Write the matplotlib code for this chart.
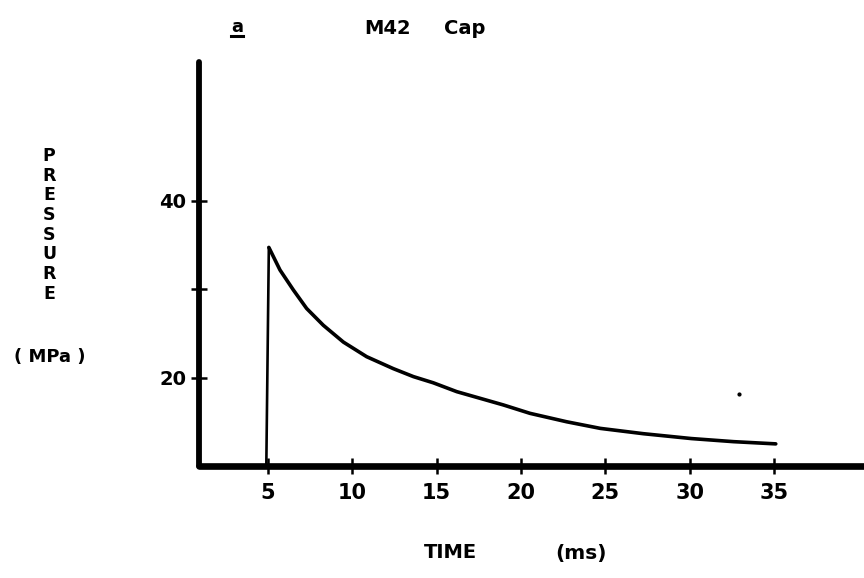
import matplotlib
matplotlib.use("Agg")
import matplotlib.pyplot as plt
from matplotlib.lines import Line2D

# ---- data ----
time_ms = [5.05, 5.71, 6.50, 7.29, 8.28, 9.47, 10.85, 12.43, 13.62, 14.80, 16.19,
           17.57, 18.95, 20.53, 22.7, 24.7, 27.25, 30.1, 32.6, 35.1]
pressure_mpa = [34.7, 32.15, 29.9, 27.8, 25.9, 24.0, 22.35, 21.0, 20.1, 19.4, 18.4,
                17.65, 16.9, 15.95, 15.0, 14.25, 13.65, 13.1, 12.75, 12.5]
onset_time = 4.9
baseline_pressure = 10.0
speck_time = [32.9]
speck_pressure = [18.1]

x_ticks = [5, 10, 15, 20, 25, 30, 35]
x_ticklabels = ["5", "10", "15", "20", "25", "30", "35"]
y_ticks = [20, 30, 40]
y_ticklabels = ["20", "", "40"]

W, H = 864, 578
fig = plt.figure(figsize=(W / 100, H / 100), dpi=100)
fig.patch.set_facecolor("white")

left_px, right_px, bottom_px, top_px = 199, 864, 466, 62
ax = fig.add_axes([left_px / W, (H - bottom_px) / H,
                   (right_px - left_px) / W, (bottom_px - top_px) / H])
ax.set_xlim(0.91, 40.33)
ax.set_ylim(10.0, 55.65)

for s in ["top", "right"]:
    ax.spines[s].set_visible(False)
ax.spines["left"].set_linewidth(4.2)
ax.spines["bottom"].set_linewidth(4.8)
for s in ["left", "bottom"]:
    ax.spines[s].set_capstyle("round")
    ax.spines[s].set_color("black")

# curve
ax.plot([onset_time, time_ms[0]], [baseline_pressure, pressure_mpa[0]],
        color="black", lw=1.9, solid_capstyle="round", clip_on=False)
ax.plot(time_ms, pressure_mpa, color="black", lw=2.6,
        solid_capstyle="round", solid_joinstyle="round", clip_on=False)
ax.plot(speck_time, speck_pressure, marker="o", ms=2, color="black", lw=0)

ax.set_xticks(x_ticks)
ax.set_xticklabels(x_ticklabels, fontsize=15, fontweight="bold")
ax.set_yticks(y_ticks)
ax.set_yticklabels(y_ticklabels, fontsize=14, fontweight="bold")
ax.tick_params(axis="both", direction="inout", length=12, width=1.8, color="black")
ax.tick_params(axis="x", pad=6)
ax.tick_params(axis="y", pad=3)

# labels
def fx(px):
    return px / W

def fy(py):
    return (H - py) / H

fig.text(fx(49), fy(147), "P\nR\nE\nS\nS\nU\nR\nE", ha="center", va="top",
         fontsize=12.5, fontweight="bold", linespacing=1.12)
fig.text(fx(50), fy(357), "( MPa )", ha="center", va="center",
         fontsize=13, fontweight="bold")
fig.text(fx(450), fy(553), "TIME", ha="center", va="center",
         fontsize=14, fontweight="bold")
fig.text(fx(581), fy(553), "(ms)", ha="center", va="center",
         fontsize=14.5, fontweight="bold")

fig.text(fx(237), fy(27), "a", ha="center", va="center",
         fontsize=13, fontweight="bold")
fig.add_artist(Line2D([fx(231), fx(243)], [fy(36), fy(36)], color="black",
                      lw=2.2, transform=fig.transFigure))
fig.text(fx(388), fy(28), "M42", ha="center", va="center",
         fontsize=14, fontweight="bold")
fig.text(fx(465), fy(28), "Cap", ha="center", va="center",
         fontsize=14, fontweight="bold")

fig.savefig("out.png", dpi=100, facecolor="white")
